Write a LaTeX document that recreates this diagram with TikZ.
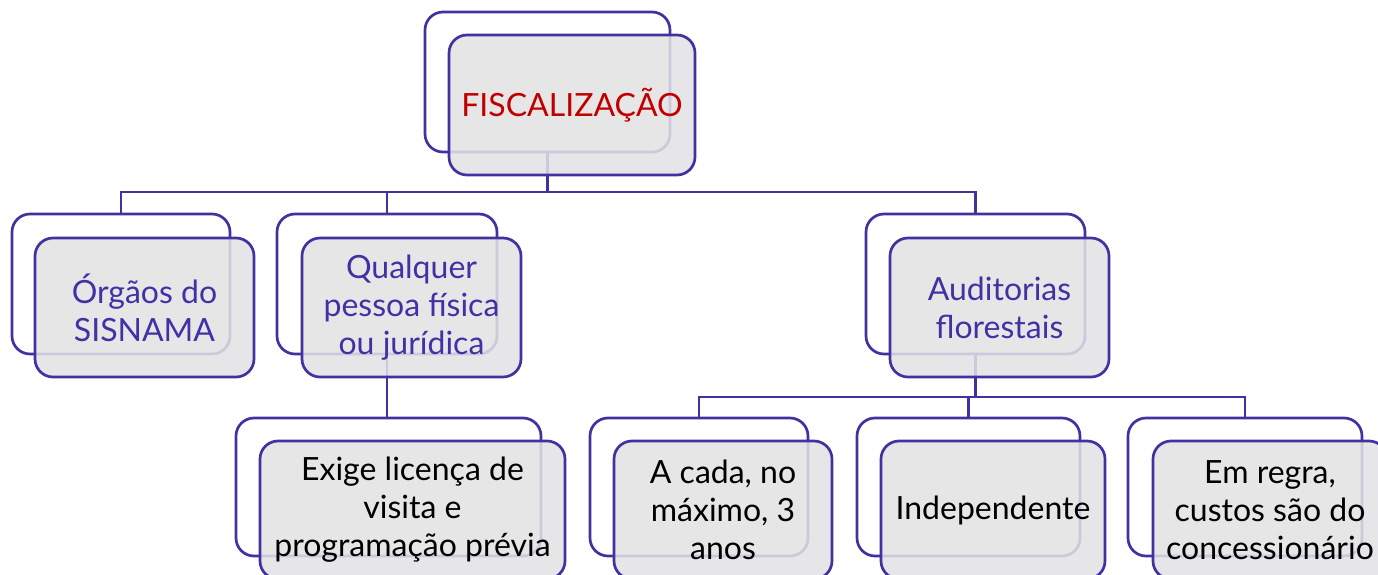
\documentclass[tikz,border=0pt]{standalone}
\usepackage{fontspec}
\setmainfont{Lato}
\definecolor{bord}{RGB}{64,50,160}
\definecolor{txtp}{RGB}{64,50,165}
\definecolor{txtr}{RGB}{192,0,0}
\definecolor{boxg}{RGB}{226,226,228}
\begin{document}
\begin{tikzpicture}[x=1pt,y=-1pt,
  backbox/.style={draw=bord,line width=2.7pt,fill=white,rounded corners=18pt,inner sep=0pt},
  frontbox/.style={draw=bord,line width=2.7pt,fill=boxg,fill opacity=0.86,text opacity=1,rounded corners=18pt,inner sep=0pt,align=center,font=\fontsize{32}{38}\selectfont},
  conn/.style={draw=bord,line width=2.7pt},
  lvA/.style={text=txtr},
  lvB/.style={text=txtp},
  lvC/.style={text=black}]
\useasboundingbox (0,0) rectangle (1378,575);
\clip (0,0) rectangle (1378,575);
% back boxes
\node[backbox,minimum width=245pt,minimum height=140pt] (b-root) at (547.5,82) {};
\node[backbox,minimum width=218pt,minimum height=140pt] (b-org) at (121,284) {};
\node[backbox,minimum width=220pt,minimum height=140pt] (b-qual) at (387,284) {};
\node[backbox,minimum width=219pt,minimum height=140pt] (b-aud) at (975.5,284) {};
\node[backbox,minimum width=305pt,minimum height=138pt] (b-exi) at (388.5,487) {};
\node[backbox,minimum width=218pt,minimum height=138pt] (b-cada) at (699,487) {};
\node[backbox,minimum width=223pt,minimum height=138pt] (b-ind) at (968.5,487) {};
\node[backbox,minimum width=234pt,minimum height=138pt] (b-reg) at (1245,487) {};
% connectors
\coordinate (j1) at (548,192);
\coordinate (j2) at (976,397);
\draw[conn] (b-root.south) -- (b-root.south |- j1) -| (b-org.north);
\draw[conn] (b-root.south |- j1) -| (b-qual.north);
\draw[conn] (b-root.south |- j1) -| (b-aud.north);
\draw[conn] (b-qual.south) -- (b-qual.south |- b-exi.north);
\draw[conn] (b-aud.south) -- (b-aud.south |- j2) -| (b-cada.north);
\draw[conn] (b-aud.south |- j2) -| (b-ind.north);
\draw[conn] (b-aud.south |- j2) -| (b-reg.north);
% front boxes
\node[frontbox,lvA,minimum width=246pt,minimum height=140pt] (f-root) at (572,105) {FISCALIZAÇÃO};
\node[frontbox,lvB,minimum width=219pt,minimum height=139pt] (f-org) at (144.5,307.5) {Órgãos do\\SISNAMA};
\node[frontbox,lvB,minimum width=219pt,minimum height=139pt] (f-qual) at (411.5,307.5) {Qualquer\\pessoa física\\ou jurídica};
\node[frontbox,lvB,minimum width=219pt,minimum height=139pt] (f-aud) at (999.5,307.5) {Auditorias\\florestais};
\node[frontbox,lvC,minimum width=305pt,minimum height=138pt] (f-exi) at (412.5,510) {Exige licença de\\visita e\\programação prévia};
\node[frontbox,lvC,minimum width=218pt,minimum height=138pt] (f-cada) at (723,510) {A cada, no\\máximo, 3\\anos};
\node[frontbox,lvC,minimum width=224pt,minimum height=138pt] (f-ind) at (993,510) {Independente};
\node[frontbox,lvC,minimum width=234pt,minimum height=138pt] (f-reg) at (1270,510) {Em regra,\\custos são do\\concessionário};
\end{tikzpicture}
\end{document}
